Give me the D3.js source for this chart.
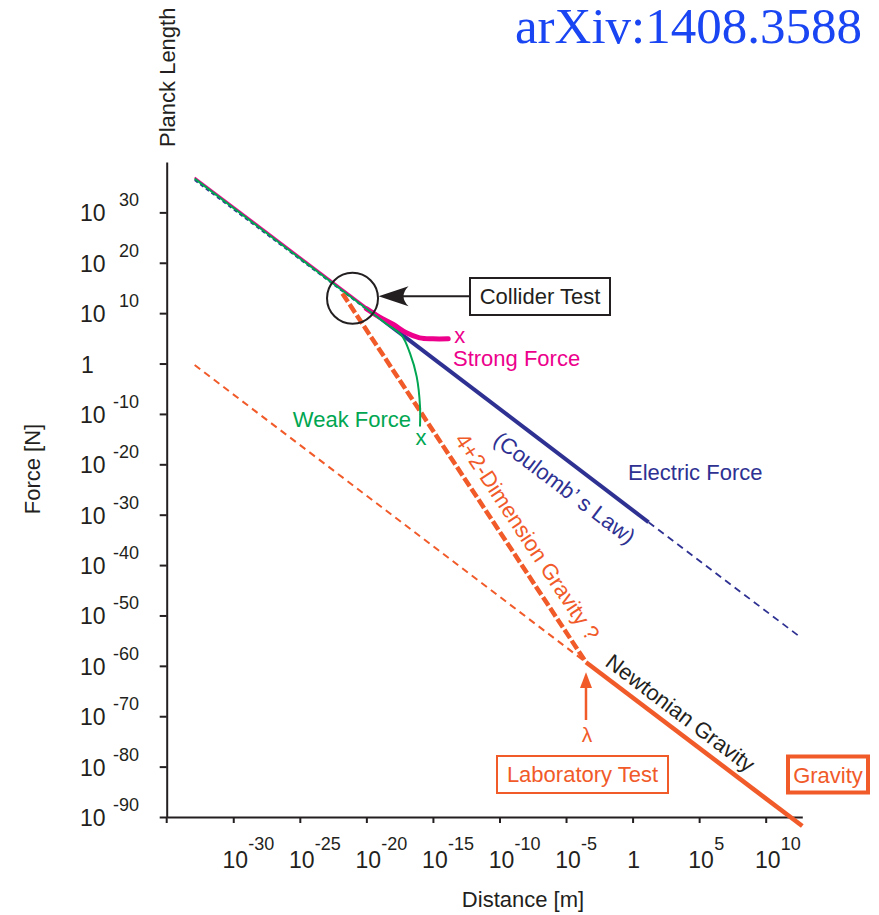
<!DOCTYPE html>
<html>
<head>
<meta charset="utf-8">
<script src="https://cdn.jsdelivr.net/npm/d3@7"></script>
<style>
  body { margin: 0; background: #fff; }
  text { font-family: "Liberation Sans", Arial, sans-serif; }
  text.title { font-family: "Liberation Serif", "Times New Roman", serif; }
</style>
</head>
<body>
<script>
const width = 879
const height = 915

// every value is log10: [distance in m, force in N]
const xTicks = [-30, -25, -20, -15, -10, -5, 0, 5, 10]
const yTicks = [30, 20, 10, 0, -10, -20, -30, -40, -50, -60, -70, -80, -90]

const electricTrunk = [[-32.9, 36.7], [-19.6, 10.3]]
const electricSolid = [[-19.6, 10.3], [1.2, -31.5]]
const electricFar = [[1.2, -31.5], [12.6, -54.3]]
const gravityShort = [[-32.9, -0.3], [-3.5, -59.3]]
const gravityLong = [[-3.5, -59.3], [12.75, -91.8]]
const extraDim = [[-21.8, 13.9], [-3.5, -59.3]]
const strongTrunk = [[-32.9, 36.7], [-20.0, 10.9]]
const strongCurve = [[-20.0, 10.9], [-19.0, 9.2], [-18.0, 7.8], [-17.0, 6.1], [-16.0, 5.1], [-15.0, 4.9], [-13.85, 4.9]]
const weakForce = [[-32.9, 36.7], [-18.5, 7.9], [-17.35, 5.6], [-16.72, 2.0], [-16.22, -2.6], [-15.97, -8.5], [-15.97, -12.5]]
const unification = [-21.04, 12.96]
const lambda = [-3.5, -59.3]

const ink = '#231f20'
const blue = '#2e3192'
const orange = '#f15a29'
const magenta = '#ec008c'
const green = '#00a651'

const svg = d3.select('body').append('svg')
  .attr('width', width)
  .attr('height', height)

const x = d3.scaleLog().base(10)
  .domain([1e-35, Math.pow(10, 12.75)])
  .range([166.7, 802.3])
const y = d3.scaleLog().base(10)
  .domain([1e-90, 1e40])
  .range([817, 162])

const px = d => x(Math.pow(10, d[0]))
const py = d => y(Math.pow(10, d[1]))
const line = d3.line().x(px).y(py)
const smooth = d3.line().x(px).y(py).curve(d3.curveCatmullRom.alpha(0.5))

// axes
svg.append('g')
  .attr('transform', `translate(${x(1e-35)},0)`)
  .call(d3.axisLeft(y).tickValues(yTicks.map(e => Math.pow(10, e))).tickFormat('').tickSize(7).tickSizeOuter(0))
svg.append('g')
  .attr('transform', `translate(0,${y(1e-90)})`)
  .call(d3.axisBottom(x).tickValues(xTicks.map(e => Math.pow(10, e))).tickFormat('').tickSize(6).tickSizeOuter(0))
svg.selectAll('.domain, .tick line').attr('stroke', ink).attr('stroke-width', 2)

svg.append('line')
  .attr('x1', x(1e-35)).attr('x2', x(1e-35))
  .attr('y1', y(1e-90)).attr('y2', y(1e-90) + 6)
  .attr('stroke', ink).attr('stroke-width', 2)

// y tick labels
yTicks.forEach(e => {
  const ty = y(Math.pow(10, e))
  if (e === 0) {
    svg.append('text').attr('x', 81).attr('y', ty + 9)
      .attr('font-size', 23).attr('fill', ink).text('1')
    return
  }
  svg.append('text').attr('x', 80).attr('y', ty + 9)
    .attr('font-size', 23).attr('fill', ink).text('10')
  svg.append('text').attr('x', 139).attr('y', ty - 6)
    .attr('text-anchor', 'end')
    .attr('font-size', 18).attr('fill', ink).text(e)
})

// x tick labels
xTicks.forEach(e => {
  const tx = x(Math.pow(10, e))
  if (e === 0) {
    svg.append('text').attr('x', tx + 1).attr('y', 868)
      .attr('text-anchor', 'middle')
      .attr('font-size', 23).attr('fill', ink).text('1')
    return
  }
  svg.append('text').attr('x', tx + 2).attr('y', 868)
    .attr('text-anchor', 'middle')
    .attr('font-size', 23).attr('fill', ink).text('10')
  svg.append('text').attr('x', tx + 15).attr('y', 850)
    .attr('font-size', 18).attr('fill', ink).text(e)
})

svg.append('text')
  .attr('x', 523).attr('y', 907)
  .attr('text-anchor', 'middle')
  .attr('font-size', 22).attr('fill', ink)
  .text('Distance [m]')

svg.append('text')
  .attr('transform', 'translate(40,469) rotate(-90)')
  .attr('text-anchor', 'middle')
  .attr('font-size', 22).attr('fill', ink)
  .text('Force [N]')

svg.append('text')
  .attr('transform', 'translate(175,147) rotate(-90)')
  .attr('font-size', 22).attr('fill', ink)
  .text('Planck Length')

svg.append('text')
  .attr('class', 'title')
  .attr('x', 862).attr('y', 43)
  .attr('text-anchor', 'end')
  .attr('font-size', 51).attr('fill', '#1a45f3')
  .text('arXiv:1408.3588')

// force lines
svg.append('path').attr('d', line(gravityShort))
  .attr('fill', 'none').attr('stroke', orange).attr('stroke-width', 2)
  .attr('stroke-dasharray', '7,5')
svg.append('path').attr('d', line(electricFar))
  .attr('fill', 'none').attr('stroke', blue).attr('stroke-width', 1.8)
  .attr('stroke-dasharray', '7,5')
svg.append('path').attr('d', line(electricTrunk))
  .attr('transform', 'translate(0,1.5)')
  .attr('fill', 'none').attr('stroke', blue).attr('stroke-width', 1.8)
  .attr('stroke-dasharray', '4,3')
svg.append('path').attr('d', line(electricSolid))
  .attr('fill', 'none').attr('stroke', blue).attr('stroke-width', 4)
svg.append('path').attr('d', line(gravityLong))
  .attr('fill', 'none').attr('stroke', orange).attr('stroke-width', 4.5)
svg.append('path').attr('d', line(extraDim))
  .attr('fill', 'none').attr('stroke', orange).attr('stroke-width', 4.5)
  .attr('stroke-dasharray', '10,3')
svg.append('path').attr('d', line(strongTrunk))
  .attr('transform', 'translate(0,-1.2)')
  .attr('fill', 'none').attr('stroke', magenta).attr('stroke-width', 2)
svg.append('path').attr('d', smooth(strongCurve))
  .attr('fill', 'none').attr('stroke', magenta).attr('stroke-width', 5)
  .attr('stroke-linecap', 'round')
svg.append('path').attr('d', smooth(weakForce))
  .attr('fill', 'none').attr('stroke', green).attr('stroke-width', 2)

// collider test
const cx = px(unification)
const cy = py(unification)
svg.append('circle')
  .attr('cx', cx).attr('cy', cy).attr('r', 25.5)
  .attr('fill', 'none').attr('stroke', ink).attr('stroke-width', 2)
const tipX = cx + 26
const tipY = cy - 2
svg.append('line')
  .attr('x1', tipX + 20).attr('x2', 470)
  .attr('y1', tipY).attr('y2', tipY)
  .attr('stroke', ink).attr('stroke-width', 2)
svg.append('path')
  .attr('d', `M${tipX},${tipY} L${tipX + 30},${tipY - 10} Q${tipX + 20},${tipY} ${tipX + 30},${tipY + 10} Z`)
  .attr('fill', ink)
svg.append('rect')
  .attr('x', 470).attr('y', 278).attr('width', 140).attr('height', 37)
  .attr('fill', 'none').attr('stroke', ink).attr('stroke-width', 2)
svg.append('text')
  .attr('x', 540).attr('y', 304)
  .attr('text-anchor', 'middle')
  .attr('font-size', 22).attr('fill', ink)
  .text('Collider Test')

// strong / weak labels
const strongEnd = strongCurve[strongCurve.length - 1]
svg.append('text')
  .attr('x', px(strongEnd) + 6).attr('y', py(strongEnd) + 4)
  .attr('font-size', 22).attr('fill', magenta).text('x')
svg.append('text')
  .attr('x', 453).attr('y', 366)
  .attr('font-size', 22).attr('fill', magenta).text('Strong Force')

const weakEnd = weakForce[weakForce.length - 1]
svg.append('text')
  .attr('x', px(weakEnd) + 1).attr('y', py(weakEnd) + 18)
  .attr('text-anchor', 'middle')
  .attr('font-size', 22).attr('fill', green).text('x')
svg.append('text')
  .attr('x', 411).attr('y', 427)
  .attr('text-anchor', 'end')
  .attr('font-size', 22).attr('fill', green).text('Weak Force')

// electric labels
svg.append('text')
  .attr('x', 628).attr('y', 480)
  .attr('font-size', 22).attr('fill', blue).text('Electric Force')
svg.append('text')
  .attr('transform', 'translate(560,494) rotate(37)')
  .attr('text-anchor', 'middle')
  .attr('font-size', 22).attr('fill', blue).text('(Coulomb\u2019 s Law)')

// gravity labels
svg.append('text')
  .attr('transform', 'translate(521,541) rotate(56.5)')
  .attr('text-anchor', 'middle')
  .attr('font-size', 22).attr('fill', orange).text('4+2-Dimension Gravity ?')
svg.append('text')
  .attr('transform', 'translate(604,665) rotate(37)')
  .attr('font-size', 22).attr('fill', ink).text('Newtonian Gravity')

// lambda marker
const lx = px(lambda)
svg.append('line')
  .attr('x1', lx).attr('x2', lx)
  .attr('y1', 720).attr('y2', 686)
  .attr('stroke', orange).attr('stroke-width', 2.5)
svg.append('path')
  .attr('d', `M${lx},${py(lambda) + 10} L${lx - 6},688 L${lx + 6},688 Z`)
  .attr('fill', orange)
svg.append('text')
  .attr('x', lx + 1).attr('y', 742)
  .attr('text-anchor', 'middle')
  .attr('font-size', 21).attr('fill', orange).text('\u03bb')

svg.append('rect')
  .attr('x', 497).attr('y', 756).attr('width', 171).attr('height', 37)
  .attr('fill', 'none').attr('stroke', orange).attr('stroke-width', 2)
svg.append('text')
  .attr('x', 582.5).attr('y', 782)
  .attr('text-anchor', 'middle')
  .attr('font-size', 22).attr('fill', orange).text('Laboratory Test')

svg.append('rect')
  .attr('x', 788).attr('y', 756.5).attr('width', 80).attr('height', 36)
  .attr('fill', 'none').attr('stroke', orange).attr('stroke-width', 4)
svg.append('text')
  .attr('x', 828).attr('y', 783)
  .attr('text-anchor', 'middle')
  .attr('font-size', 22).attr('fill', orange).text('Gravity')
</script>
</body>
</html>
